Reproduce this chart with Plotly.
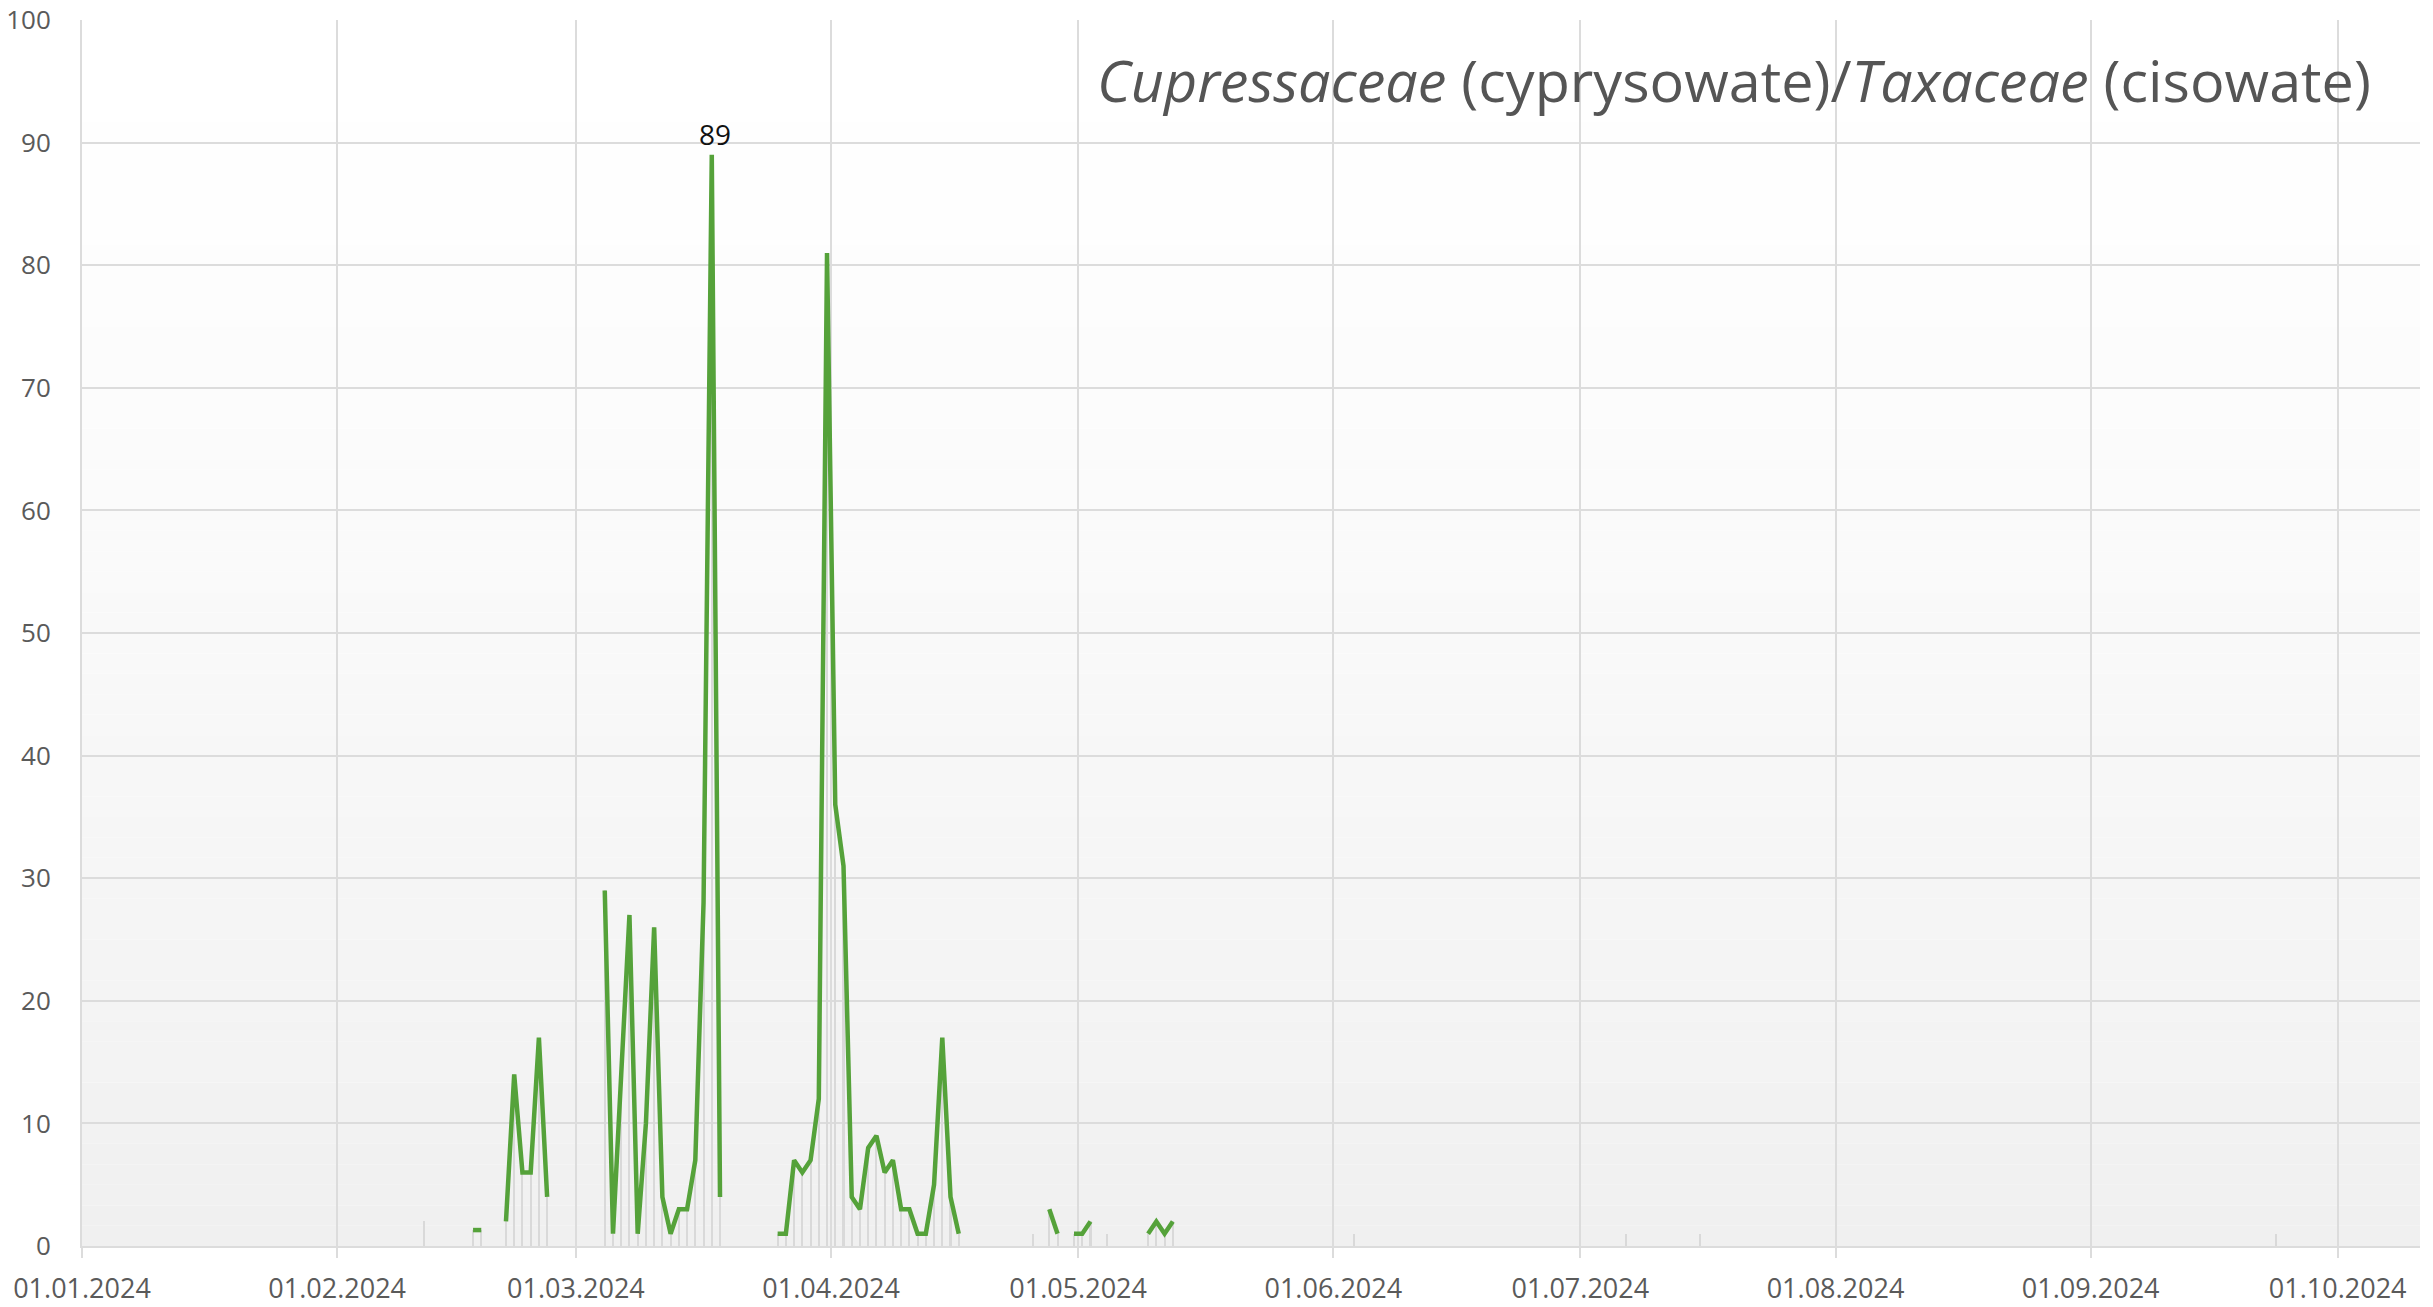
import plotly.graph_objects as go
import pandas as pd

# daily pollen counts (days without a measurement are simply missing)
dates = [
    '2024-02-11',
    '2024-02-17', '2024-02-18',
    '2024-02-21', '2024-02-22', '2024-02-23', '2024-02-24', '2024-02-25', '2024-02-26',
    '2024-03-04', '2024-03-05', '2024-03-06', '2024-03-07', '2024-03-08', '2024-03-09',
    '2024-03-10', '2024-03-11', '2024-03-12', '2024-03-13', '2024-03-14', '2024-03-15',
    '2024-03-16', '2024-03-17', '2024-03-18',
    '2024-03-25', '2024-03-26', '2024-03-27', '2024-03-28', '2024-03-29', '2024-03-30',
    '2024-03-31', '2024-04-01', '2024-04-02', '2024-04-03', '2024-04-04', '2024-04-05',
    '2024-04-06', '2024-04-07', '2024-04-08', '2024-04-09', '2024-04-10', '2024-04-11',
    '2024-04-12', '2024-04-13', '2024-04-14', '2024-04-15', '2024-04-16',
    '2024-04-25',
    '2024-04-27', '2024-04-28',
    '2024-04-30', '2024-05-01', '2024-05-02',
    '2024-05-04',
    '2024-05-09', '2024-05-10', '2024-05-11', '2024-05-12',
    '2024-06-03', '2024-07-06', '2024-07-15', '2024-09-23',
]
values = [
    2,
    1.3, 1.3,
    2, 14, 6, 6, 17, 4,
    29, 1, 14, 27, 1, 10,
    26, 4, 1, 3, 3, 7,
    28, 89, 4,
    1, 1, 7, 6, 7, 12,
    81, 36, 31, 4, 3, 8,
    9, 6, 7, 3, 3, 1,
    1, 5, 17, 4, 1,
    1,
    3, 1,
    1, 1, 2,
    1,
    1, 2, 1, 2,
    1, 1, 1, 1,
]

month_ticks = pd.date_range('2024-01-01', '2024-10-01', freq='MS')
y_ticks = list(range(0, 101, 10))
title_html = '<i>Cupressaceae</i> (cyprysowate)/<i>Taxaceae</i> (cisowate)'

df = pd.DataFrame({'date': pd.to_datetime(dates), 'value': values}).set_index('date')
# measurements sit in the middle of each day
df.index = df.index + pd.Timedelta(hours=12)
# daily grid so the line breaks on missing days
daily = df.reindex(pd.date_range(df.index.min(), df.index.max(), freq='D'))

fig = go.Figure()

fig.add_trace(go.Bar(
    x=df.index,
    y=df['value'],
    width=6 * 3600 * 1000,
    marker=dict(color='#d9d9d9', line=dict(width=0)),
    hoverinfo='skip',
))

fig.add_trace(go.Scatter(
    x=daily.index,
    y=daily['value'],
    mode='lines',
    connectgaps=False,
    line=dict(color='#55a23a', width=4.5),
))

peak = df['value'].idxmax()
fig.add_annotation(
    x=peak, y=df['value'].max(),
    text=f"{df['value'].max():g}",
    showarrow=False, yanchor='bottom', yshift=0, xshift=3,
    font=dict(family='Open Sans', size=28, color='#111111'),
)

fig.add_annotation(
    xref='paper', yref='paper', x=0.98, y=0.951,
    xanchor='right', yanchor='middle',
    text=title_html, showarrow=False,
    font=dict(family='Open Sans', size=57.5, color='#555555'),
)

# soft vertical gradient behind the grid
n = 60
shapes = []
for i in range(n):
    t = i / (n - 1)
    c = int(round(255 - 15 * (1 - t) ** 1.3))
    shapes.append(dict(
        type='rect', xref='paper', yref='paper', layer='below',
        x0=0, x1=1, y0=i / n, y1=(i + 1) / n,
        fillcolor=f'rgb({c},{c},{c})', line=dict(width=0),
    ))

fig.update_layout(
    width=2433, height=1307,
    margin=dict(l=82, r=13, t=20, b=61),
    paper_bgcolor='white',
    plot_bgcolor='white',
    showlegend=False,
    bargap=0,
    shapes=shapes,
    font=dict(family='Open Sans', size=28, color='#555555'),
    xaxis=dict(
        type='date',
        range=['2024-01-01', '2024-10-11'],
        tickvals=month_ticks,
        ticktext=[d.strftime('%d.%m.%Y') for d in month_ticks],
        showgrid=True, gridcolor='#dcdcdc', gridwidth=2,
        ticks='outside', ticklen=10, tickwidth=2, tickcolor='#dcdcdc',
        ticklabelstandoff=8,
        showline=True, linecolor='#dcdcdc', linewidth=2,
        zeroline=False,
        automargin=False,
        ticklabeloverflow='allow',
        tickfont=dict(family='Open Sans', size=27, color='#5a5a5a'),
    ),
    yaxis=dict(
        range=[0, 100],
        tickmode='array',
        tickvals=y_ticks,
        showgrid=True, gridcolor='#dcdcdc', gridwidth=2,
        ticks='outside', ticklen=24, tickcolor='rgba(0,0,0,0)',
        showline=True, linecolor='#dcdcdc', linewidth=2,
        zeroline=False,
        automargin=False,
        ticklabeloverflow='allow',
        tickfont=dict(family='Open Sans', size=26, color='#5a5a5a'),
    ),
)

fig.write_html(
    "out.html",
    config={'displayModeBar': False},
    post_script="document.body.style.margin = '0';",
)
